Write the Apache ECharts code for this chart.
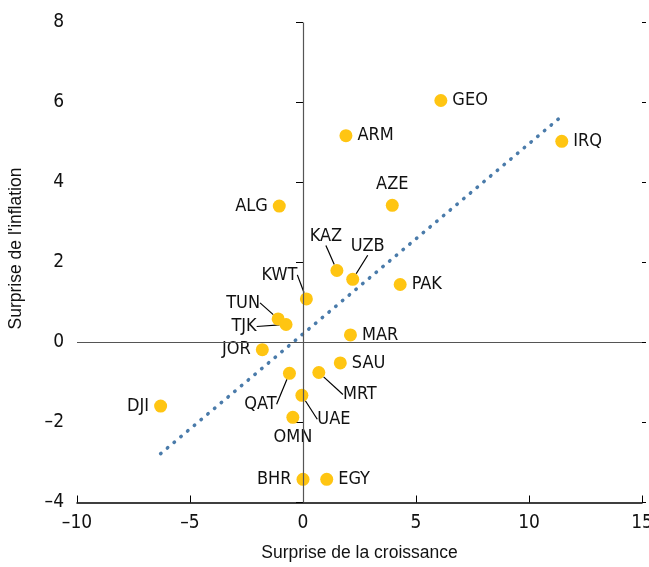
<!DOCTYPE html>
<html>
<head>
<meta charset="utf-8">
<script src="https://cdn.jsdelivr.net/npm/echarts@6/dist/echarts.min.js"></script>
<style>
html, body { margin: 0; padding: 0; background: #fff; }
#chart { width: 649px; height: 567px; }
</style>
</head>
<body>
<div id="chart"></div>
<script>
// données
var countries = ['GEO', 'IRQ', 'ARM', 'AZE', 'ALG', 'KAZ', 'UZB', 'PAK', 'KWT', 'TUN', 'TJK',
                 'MAR', 'JOR', 'SAU', 'QAT', 'MRT', 'UAE', 'OMN', 'DJI', 'BHR', 'EGY'];
var growth = [6.1, 11.45, 1.9, 3.95, -1.05, 1.5, 2.2, 4.3, 0.15, -1.1, -0.75,
              2.1, -1.8, 1.65, -0.6, 0.7, -0.05, -0.45, -6.3, 0.0, 1.05];
var inflation = [6.05, 5.03, 5.17, 3.43, 3.41, 1.8, 1.58, 1.45, 1.09, 0.59, 0.45,
                 0.19, -0.18, -0.51, -0.77, -0.75, -1.32, -1.87, -1.59, -3.42, -3.42];
var trendX = [-6.3, 11.45];
var trendY = [-2.78, 5.66];

// placement des étiquettes
var labelSide = {
    GEO: 'right', IRQ: 'right', ARM: 'right', PAK: 'right', MAR: 'right', SAU: 'right', EGY: 'right',
    ALG: 'left', JOR: 'left', DJI: 'left', BHR: 'left', AZE: 'top', OMN: 'bottom'
};
var labelShift = { AZE: [11, 0], OMN: [-17, 0] };
var leaders = {
    KAZ: [-11, -34], UZB: [15, -33], KWT: [-27, -24], TUN: [-35, -16],
    TJK: [-42, 2], QAT: [-29, 31], MRT: [41, 22], UAE: [32, 24]
};

var narrow = "'Liberation Sans Narrow', 'Arial Narrow', 'DejaVu Sans Condensed', sans-serif";
var normal = "'Liberation Sans', Arial, sans-serif";
var minus = function (v) { return String(v).replace('-', '\u2013'); };

var points = [];
for (var i = 0; i < countries.length; i++) {
    var c = countries[i];
    var item = { name: c, value: [growth[i], inflation[i]] };
    if (leaders[c]) {
        item.label = { position: 'inside' };
        item.labelLine = { show: true };
    } else {
        item.label = { position: labelSide[c], offset: labelShift[c] || [0, 0] };
    }
    points.push(item);
}

var trend = [];
for (var j = 0; j < trendX.length; j++) trend.push([trendX[j], trendY[j]]);

var dom = document.getElementById('chart');
var myChart = echarts.init(dom);

var option = {
    animation: false,
    grid: { left: 77, right: 7, top: 22.5, bottom: 64.5, outerBoundsMode: 'none', containLabel: false },
    xAxis: {
        type: 'value',
        min: -10, max: 15, interval: 5,
        name: 'Surprise de la croissance',
        nameLocation: 'middle',
        nameGap: 42,
        nameTextStyle: { fontFamily: normal, fontSize: 17.5, color: '#111' },
        axisLine: { onZero: false, lineStyle: { color: '#000', width: 1.5 } },
        axisTick: { inside: true, length: 7, lineStyle: { color: '#000' } },
        axisLabel: { fontFamily: narrow, fontSize: 19, color: '#111', margin: 11, formatter: minus },
        splitLine: { show: false }
    },
    yAxis: [{
        type: 'value',
        min: -4, max: 8, interval: 2,
        name: "Surprise de l'inflation",
        nameLocation: 'middle',
        nameGap: 52,
        nameTextStyle: { fontFamily: normal, fontSize: 17.5, color: '#111', padding: [0, 0, 0, 28] },
        axisLine: { show: false },
        axisTick: { show: true, length: 7, lineStyle: { color: '#000' } },
        axisLabel: { fontFamily: narrow, fontSize: 19, color: '#111', margin: 13, formatter: minus },
        splitLine: { show: false }
    }, {
        type: 'value',
        position: 'right',
        min: -4, max: 8, interval: 2,
        axisLine: { show: false },
        axisTick: { show: true, length: 4, lineStyle: { color: '#000' } },
        axisLabel: { show: false },
        splitLine: { show: false }
    }],
    series: [{
        type: 'line',
        data: trend,
        symbol: 'none',
        silent: true,
        lineStyle: { color: '#4A7BAA', width: 3.5, type: [0.5, 8.3], cap: 'round' },
        markLine: {
            silent: true,
            symbol: ['none', 'none'],
            label: { show: false },
            lineStyle: { type: 'solid', color: '#555', width: 1.2 },
            data: [{ xAxis: 0 }, { yAxis: 0 }]
        }
    }, {
        type: 'scatter',
        data: points,
        symbolSize: 13,
        itemStyle: { color: '#FFC512', opacity: 1 },
        label: {
            show: true,
            formatter: '{b}',
            distance: 5,
            fontFamily: narrow,
            fontSize: 18,
            color: '#111'
        },
        labelLine: { show: false, lineStyle: { color: '#000', width: 1.2 } },
        labelLayout: function (params) {
            var off = leaders[countries[params.dataIndex]];
            if (off) return { dx: off[0], dy: off[1] };
            return {};
        }
    }]
};

myChart.setOption(option);
</script>
</body>
</html>
